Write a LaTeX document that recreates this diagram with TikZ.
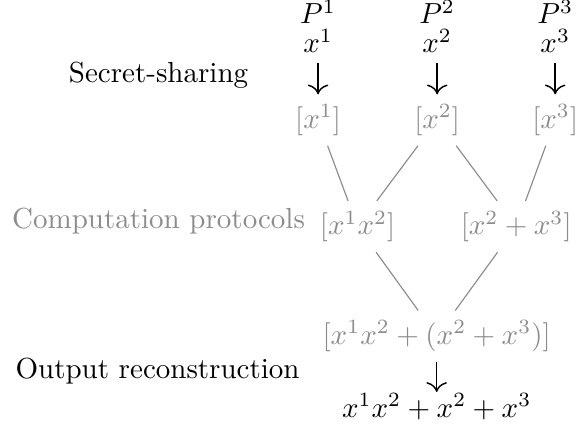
\documentclass[tikz,border=0pt]{standalone}
\usepackage{amsmath, amssymb, xcolor}
\usepackage{tikz}
\usetikzlibrary{arrows.meta}

\begin{document}
\begin{tikzpicture}
\useasboundingbox (0,0) rectangle (6.99,-5.235);
\begin{scope}[every node/.style={anchor=base}]
  \node[align=center] (in1) at (3.853,-0.642) {$P^{1}$\\[-2pt]$x^{1}$};
    \node[align=center] (in2) at (5.296,-0.642) {$P^{2}$\\[-2pt]$x^{2}$};
    \node[align=center] (in3) at (6.726,-0.642) {$P^{3}$\\[-2pt]$x^{3}$};
    \node (lss) at (1.921,-0.994) {Secret-sharing};
    \node (lor) at (1.909,-4.581) {Output reconstruction};
    \node (out) at (5.290,-5.053) {$x^{1}x^{2}+x^{2}+x^{3}$};
\end{scope}

\begin{scope}[every node/.style={text=black!45}]
  \node (s1) at (3.853,-1.454) {$[x^{1}]$};
    \node (s2) at (5.296,-1.454) {$[x^{2}]$};
    \node (s3) at (6.726,-1.454) {$[x^{3}]$};
    \node (m12) at (4.332,-2.745) {$[x^{1}x^{2}]$};
    \node (a23) at (6.253,-2.745) {$[x^{2}+x^{3}]$};
    \node (f) at (5.290,-4.072) {$[x^{1}x^{2}+(x^{2}+x^{3})]$};
    \node[anchor=base] (lcp) at (1.921,-2.763) {Computation protocols};
\end{scope}

\begin{scope}[>={Computer Modern Rightarrow[scale=1.25]},
              every path/.style={draw=black, line width=0.5pt}]
    \path [->] (in1) edge (s1);
    \path [->] (in2) edge (s2);
    \path [->] (in3) edge (s3);
    \path [->, shorten >=-3pt] (f) edge (out);
\end{scope}
\begin{scope}[every path/.style={draw=black!45, thin}]
    \path (s1) edge (m12);
    \path (s2) edge (m12);
    \path (s2) edge (a23);
    \path (s3) edge (a23);
    \path (m12) edge (f);
    \path (a23) edge (f);
\end{scope}
\end{tikzpicture}
\end{document}
